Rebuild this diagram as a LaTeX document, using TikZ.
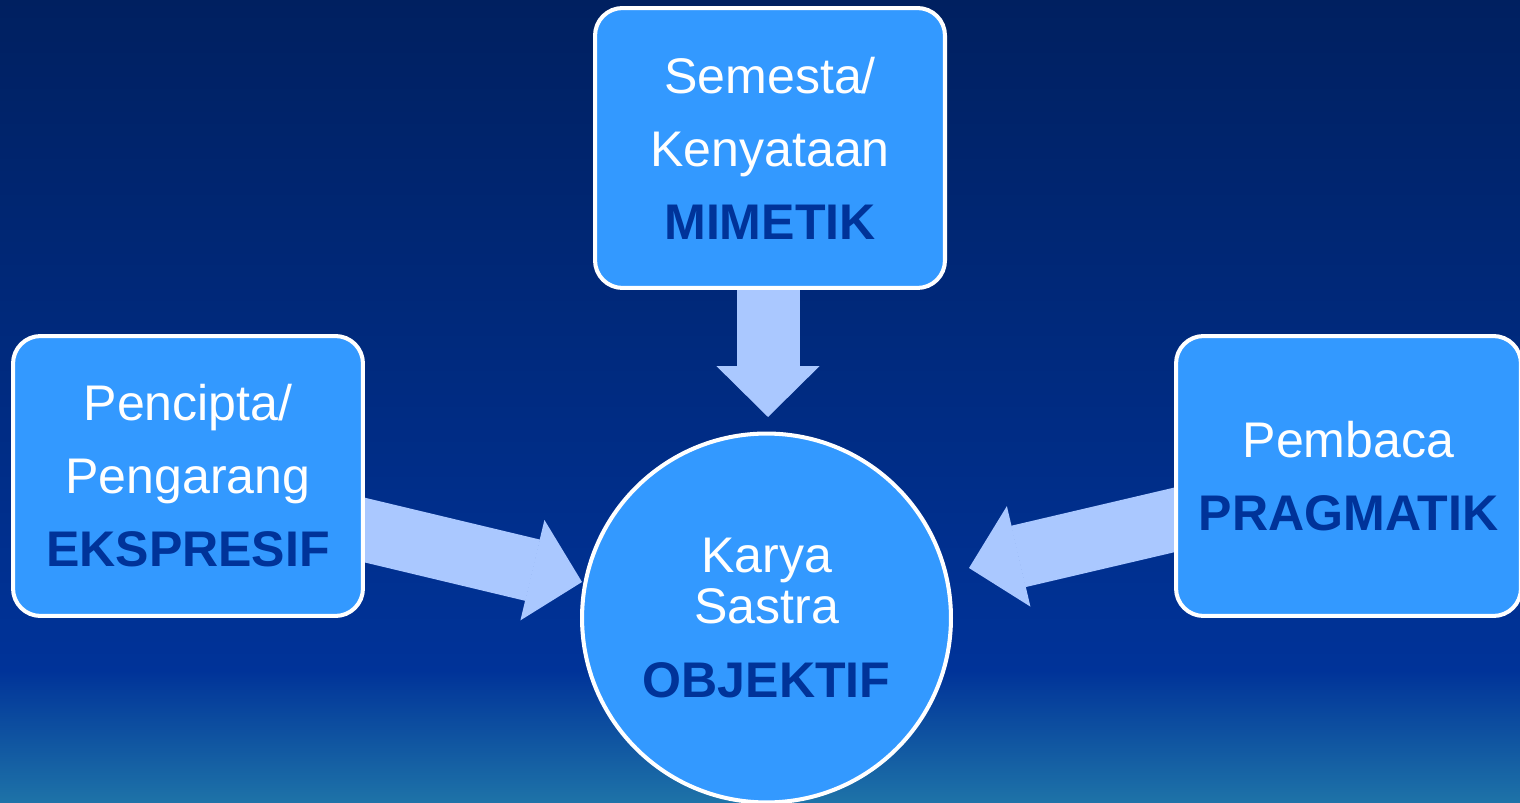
\documentclass[tikz,border=0pt]{standalone}
\usepackage{fontspec}
\setmainfont{Liberation Sans}
\usetikzlibrary{arrows.meta,backgrounds,calc}

\definecolor{boxblue}{RGB}{51,153,255}
\definecolor{deepblue}{RGB}{0,51,153}
\definecolor{arrowblue}{RGB}{170,200,255}
\definecolor{navytop}{RGB}{0,32,96}
\definecolor{tealbot}{RGB}{30,115,168}

\begin{document}
\begin{tikzpicture}[x=0.02cm, y=-0.02cm]
  \useasboundingbox (0,0) rectangle (1520,803);
  \begin{scope}[every node/.style={rectangle,rounded corners=0.55cm,draw=white,line width=2.3pt,
      fill=boxblue,text=white,align=center,inner sep=0pt,minimum width=7cm,minimum height=5.6cm,
      font=\fontsize{28.5pt}{41.5pt}\selectfont}]
    \node (semesta) at (770,148) {Semesta/\\Kenyataan\\\textcolor{deepblue}{\bfseries MIMETIK}};
    \node (pencipta) at (188,476) {Pencipta/\\Pengarang\\\textcolor{deepblue}{\bfseries EKSPRESIF}};
    \node (pembaca) [minimum width=6.9cm] at (1348.5,476) {Pembaca\\\textcolor{deepblue}{\bfseries PRAGMATIK}};
    \node (karya) [circle,minimum size=7.38cm,font=\fontsize{28.5pt}{29pt}\selectfont] at (766.5,618)
      {Karya\\Sastra\\[13pt]\textcolor{deepblue}{\bfseries OBJEKTIF}};
  \end{scope}
  % ends of the block arrows
  \coordinate (tstart) at ($(semesta.south)+(-2,-28)$);
  \coordinate (lstart) at ($(pencipta.east)+(-34,46)$);
  \coordinate (rstart) at ($(pembaca.west)+(34,36)$);
  \coordinate (ttip) at (768,417);
  \coordinate (ltip) at (582,582);
  \coordinate (rtip) at (969,568);
  \begin{scope}[on background layer]
    \shade[top color=navytop,bottom color=deepblue] (0,0) rectangle (1520,671);
    \shade[top color=deepblue,bottom color=tealbot] (0,670) rectangle (1520,803);
  \end{scope}
  \begin{scope}[on background layer,
    every edge/.style={draw=arrowblue,line width=1.26cm,
      -{Triangle[width=2.06cm 0 0,length=1.02cm 0 0,line width=0.8pt 0 0]}}]
    \path (tstart) edge (ttip);
    \path (lstart) edge (ltip);
    \path (rstart) edge (rtip);
  \end{scope}
\end{tikzpicture}
\end{document}
